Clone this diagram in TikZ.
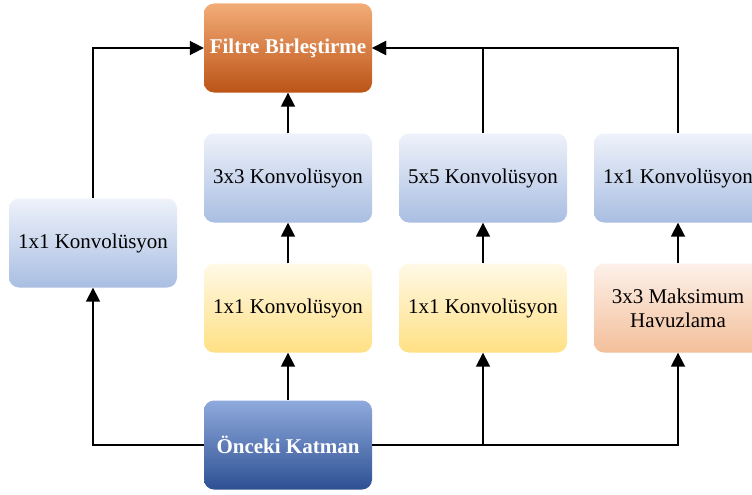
\documentclass[tikz,border=0pt]{standalone}
\usepackage{fontspec}
\setmainfont{Liberation Serif}
\usetikzlibrary{arrows.meta}
\definecolor{bluetop}{HTML}{EEF2FA}
\definecolor{bluebot}{HTML}{A9BEE2}
\definecolor{yeltop}{HTML}{FFF9E6}
\definecolor{yelbot}{HTML}{FFE084}
\definecolor{peachtop}{HTML}{FDF1EA}
\definecolor{peachbot}{HTML}{F3BF9A}
\definecolor{orgtop}{HTML}{F3AD78}
\definecolor{orgbot}{HTML}{BC5316}
\definecolor{dbtop}{HTML}{8FA9DC}
\definecolor{dbbot}{HTML}{2E5193}
\begin{document}
\begin{tikzpicture}[x=1pt,y=-1pt,
  box/.style={rounded corners=10pt, minimum width=168pt, minimum height=89pt,
    inner sep=2pt, align=center, font=\fontsize{21}{24}\selectfont},
  bluebox/.style={box, top color=bluetop, bottom color=bluebot},
  yelbox/.style={box, top color=yeltop, bottom color=yelbot},
  peachbox/.style={box, top color=peachtop, bottom color=peachbot},
  orgbox/.style={box, top color=orgtop, bottom color=orgbot, text=white, font=\fontsize{21}{24}\selectfont\bfseries},
  dbbox/.style={box, top color=dbtop, bottom color=dbbot, text=white, font=\fontsize{21}{24}\selectfont\bfseries},
  arr/.style={-{Triangle[length=14pt,width=14pt]}, line width=1.8pt},
  ln/.style={line width=1.8pt}
]
\useasboundingbox (0,0) rectangle (752,495);
\node[orgbox] (fb) at (288,48) {Filtre Birleştirme};
\node[bluebox] (c3) at (288,178) {3x3 Konvolüsyon};
\node[bluebox] (c5) at (483,178) {5x5 Konvolüsyon};
\node[bluebox] (c1r) at (678,178) {1x1 Konvolüsyon};
\node[bluebox] (c1l) at (93,243) {1x1 Konvolüsyon};
\node[yelbox] (y1) at (288,308) {1x1 Konvolüsyon};
\node[yelbox] (y2) at (483,308) {1x1 Konvolüsyon};
\node[peachbox] (mp) at (678,308) {3x3 Maksimum\\Havuzlama};
\node[dbbox] (ok) at (288,445) {Önceki Katman};

\draw[arr] (ok.west) -| (c1l.south);
\draw[arr] (c1l.north) |- (fb.west);
\draw[arr] (ok.north) -- (y1.south);
\draw[arr] (y1.north) -- (c3.south);
\draw[arr] (c3.north) -- (fb.south);
\draw[arr] (ok.east) -| (y2.south);
\draw[arr] (ok.east) -| (mp.south);
\draw[arr] (y2.north) -- (c5.south);
\draw[arr] (mp.north) -- (c1r.south);
\draw[arr] (c5.north) |- (fb.east);
\draw[arr] (c1r.north) |- (fb.east);
\end{tikzpicture}
\end{document}
